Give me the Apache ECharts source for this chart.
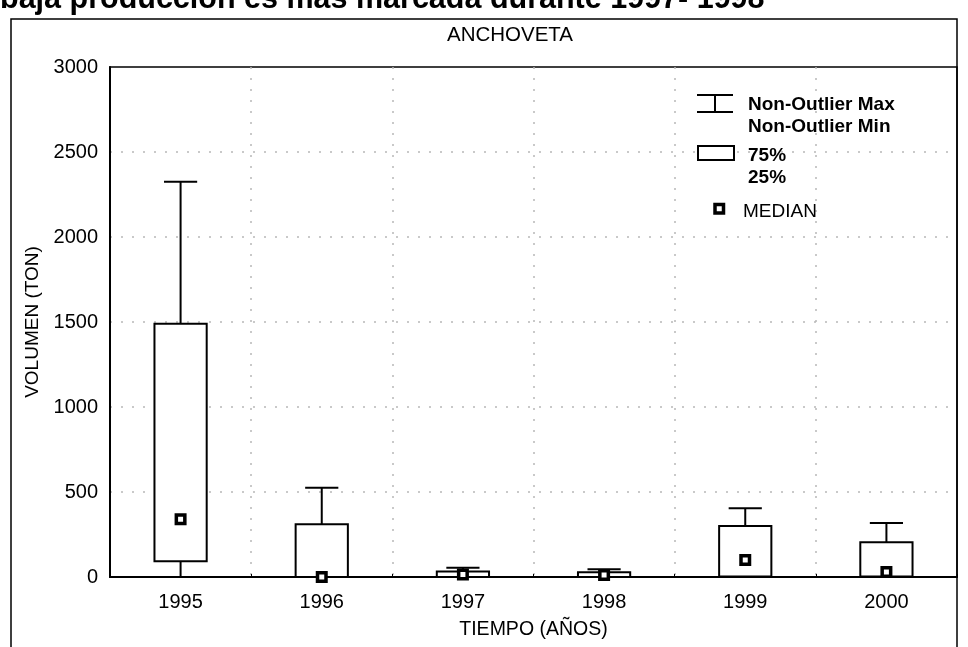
<!DOCTYPE html>
<html>
<head>
<meta charset="utf-8">
<script src="https://cdn.jsdelivr.net/npm/echarts@6/dist/echarts.min.js"></script>
<style>
  html, body { margin: 0; padding: 0; background: #fff; }
  #chart { width: 968px; height: 647px; }
</style>
</head>
<body>
<div id="chart"></div>
<script>
// Anchoveta landings per year: box-and-whisker summary (TON)
const categories = ['1995', '1996', '1997', '1998', '1999', '2000'];
const whiskerMin = [0, 0, 0, 0, 0, 0];
const quartile1 = [92, 0, 0, 0, 3, 3];
const medians = [340, 0, 15, 12, 100, 30];
const quartile3 = [1490, 310, 32, 28, 300, 205];
const whiskerMax = [2325, 525, 55, 45, 405, 318];

const yMin = 0;
const yMax = 3000;
const yStep = 500;

const boxData = categories.map((c, i) => [i, whiskerMin[i], quartile1[i], medians[i], quartile3[i], whiskerMax[i]]);

const lineStyle = { stroke: '#000', lineWidth: 2 };

function renderBox(params, api) {
  const idx = api.value(0);
  const pLow = api.coord([idx, api.value(1)]);
  const pQ1 = api.coord([idx, api.value(2)]);
  const pMed = api.coord([idx, api.value(3)]);
  const pQ3 = api.coord([idx, api.value(4)]);
  const pHigh = api.coord([idx, api.value(5)]);
  const band = api.size([1, 0])[0];
  const boxW = band * 0.37;
  const capW = band * 0.235;
  const cx = pLow[0];
  const m = 8.5;
  return {
    type: 'group',
    children: [
      { type: 'line', shape: { x1: cx, y1: pQ3[1], x2: cx, y2: pHigh[1] }, style: lineStyle },
      { type: 'line', shape: { x1: cx - capW / 2, y1: pHigh[1], x2: cx + capW / 2, y2: pHigh[1] }, style: lineStyle },
      { type: 'line', shape: { x1: cx, y1: pQ1[1], x2: cx, y2: pLow[1] }, style: lineStyle },
      { type: 'line', shape: { x1: cx - capW / 2, y1: pLow[1], x2: cx + capW / 2, y2: pLow[1] }, style: lineStyle },
      { type: 'rect', shape: { x: cx - boxW / 2, y: pQ3[1], width: boxW, height: pQ1[1] - pQ3[1] },
        style: { fill: '#fff', stroke: '#000', lineWidth: 2 } },
      { type: 'rect', shape: { x: cx - m / 2, y: pMed[1] - m / 2, width: m, height: m },
        style: { fill: '#fff', stroke: '#000', lineWidth: 3.5 } }
    ]
  };
}

const chart = echarts.init(document.getElementById('chart'), null, { renderer: 'canvas' });

const tickFont = { color: '#000', fontFamily: 'Liberation Sans', fontSize: 20 };
const legendFont = { fill: '#000', fontFamily: 'Liberation Sans', fontSize: 19, fontWeight: 'bold' };
const dotted = { color: '#b8b8b8', type: [2, 9], width: 1.5 };

chart.setOption({
  backgroundColor: '#fff',
  animation: false,
  grid: {
    left: 110, right: 11, top: 67, bottom: 70,
    show: true, borderColor: '#000', borderWidth: 1.5, backgroundColor: 'transparent'
  },
  xAxis: {
    type: 'category',
    data: categories,
    boundaryGap: true,
    name: 'TIEMPO (AÑOS)',
    nameLocation: 'middle',
    nameGap: 43,
    nameTextStyle: { color: '#000', fontFamily: 'Liberation Sans', fontSize: 19.5 },
    axisLine: { lineStyle: { color: '#000', width: 2 } },
    axisTick: { show: true, inside: true, length: 3, lineStyle: { color: '#000' } },
    axisLabel: Object.assign({ margin: 15 }, tickFont),
    splitLine: { show: true, showMinLine: false, showMaxLine: false, lineStyle: dotted }
  },
  yAxis: {
    type: 'value',
    min: yMin, max: yMax, interval: yStep,
    name: 'VOLUMEN (TON)',
    nameLocation: 'middle',
    nameGap: 60,
    nameTextStyle: { color: '#000', fontFamily: 'Liberation Sans', fontSize: 19 },
    axisLine: { show: true, lineStyle: { color: '#000', width: 2 } },
    axisTick: { show: false },
    axisLabel: Object.assign({ margin: 12, formatter: v => String(v) }, tickFont),
    splitLine: { show: true, showMinLine: false, showMaxLine: false, lineStyle: dotted }
  },
  series: [{
    type: 'custom',
    renderItem: renderBox,
    encode: { x: 0, y: [1, 2, 3, 4, 5] },
    data: boxData,
    z: 5
  }],
  graphic: [
    // page text above the figure frame
    { type: 'text', left: 0, top: -16, z: 10,
      style: { text: 'baja producción es más marcada durante 1997- 1998', fill: '#000',
        fontFamily: 'Liberation Sans', fontSize: 30.5, fontWeight: 'bold' } },
    // figure frame
    { type: 'rect', z: 1, shape: { x: 11, y: 19, width: 946, height: 660 },
      style: { fill: 'none', stroke: '#000', lineWidth: 1.5 } },
    // chart title
    { type: 'text', x: 510, y: 35, z: 10,
      style: { text: 'ANCHOVETA', fill: '#000', fontFamily: 'Liberation Sans', fontSize: 20.5,
        align: 'center', verticalAlign: 'middle' } },
    // legend: whisker
    { type: 'line', z: 10, shape: { x1: 697, y1: 95, x2: 733, y2: 95 }, style: lineStyle },
    { type: 'line', z: 10, shape: { x1: 697, y1: 112, x2: 733, y2: 112 }, style: lineStyle },
    { type: 'line', z: 10, shape: { x1: 715, y1: 95, x2: 715, y2: 112 }, style: lineStyle },
    { type: 'text', x: 748, y: 105, z: 10,
      style: Object.assign({ text: 'Non-Outlier Max', verticalAlign: 'middle' }, legendFont) },
    { type: 'text', x: 748, y: 127, z: 10,
      style: Object.assign({ text: 'Non-Outlier Min', verticalAlign: 'middle' }, legendFont) },
    // legend: box
    { type: 'rect', z: 10, shape: { x: 698, y: 146, width: 36, height: 14 },
      style: { fill: '#fff', stroke: '#000', lineWidth: 2 } },
    { type: 'text', x: 748, y: 156, z: 10,
      style: Object.assign({ text: '75%', verticalAlign: 'middle' }, legendFont) },
    { type: 'text', x: 748, y: 178, z: 10,
      style: Object.assign({ text: '25%', verticalAlign: 'middle' }, legendFont) },
    // legend: median
    { type: 'rect', z: 10, shape: { x: 715, y: 204.5, width: 8.5, height: 8.5 },
      style: { fill: '#fff', stroke: '#000', lineWidth: 3.5 } },
    { type: 'text', x: 743, y: 212, z: 10,
      style: { text: 'MEDIAN', fill: '#000', fontFamily: 'Liberation Sans', fontSize: 19, verticalAlign: 'middle' } }
  ]
});
</script>
</body>
</html>
